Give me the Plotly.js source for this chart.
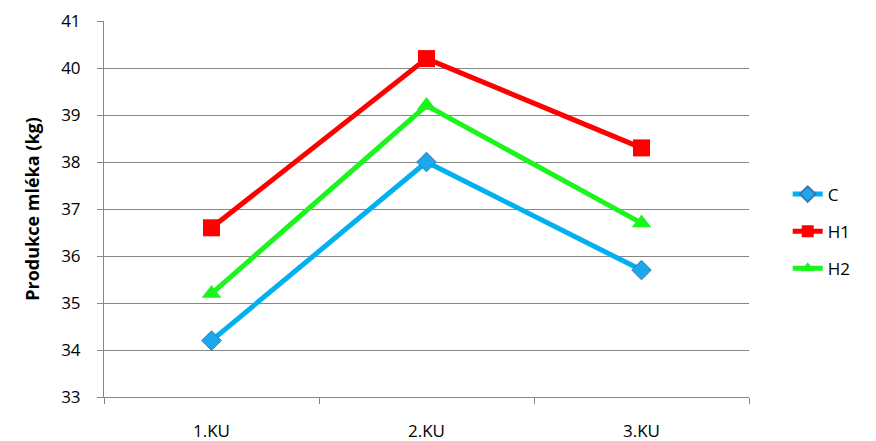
<!DOCTYPE html>
<html>
<head>
<meta charset="utf-8">
<script src="https://cdn.plot.ly/plotly-3.0.1.min.js"></script>
<style>html,body{margin:0;padding:0;background:#fff;}#chart{width:876px;height:441px;}</style>
</head>
<body>
<div id="chart"></div>
<script>
// Milk production per lactation period (kg)
const categories = ["1.KU", "2.KU", "3.KU"];
const seriesC  = [34.2, 38.0, 35.7];
const seriesH1 = [36.6, 40.2, 38.3];
const seriesH2 = [35.2, 39.2, 36.7];
const yTicks = [33, 34, 35, 36, 37, 38, 39, 40, 41];

const traces = [
  {
    name: "C", legendgroup: "c", x: categories, y: seriesC, type: "scatter", mode: "lines+markers",
    line: {color: "#00B0F0", width: 5},
    marker: {symbol: "diamond", size: 15, color: "#1CA8EC", line: {color: "#3F73B5", width: 1}}
  },
  {
    name: "H1", legendgroup: "h1", x: categories, y: seriesH1, type: "scatter", mode: "lines+markers",
    line: {color: "#FF0000", width: 5},
    marker: {symbol: "square", size: 17, color: "#FF0000"}
  },
  {
    name: "H2", legendgroup: "h2", x: categories, y: seriesH2, type: "scatter", mode: "lines+markers",
    line: {color: "#1CF51C", width: 5},
    marker: {symbol: "triangle-up", size: 17, color: "#1CF51C"}
  }
];

const layout = {
  width: 876, height: 441,
  margin: {l: 104, r: 127, t: 21, b: 44},
  paper_bgcolor: "#fff", plot_bgcolor: "#fff",
  font: {family: "'Open Sans', Lato, sans-serif", color: "#000", size: 17},
  showlegend: true,
  legend: {
    x: 1.06, xanchor: "left", y: 0.44, yanchor: "middle",
    font: {size: 17, color: "#000"}, traceorder: "grouped", tracegroupgap: 12,
    itemsizing: "constant"
  },
  xaxis: {
    type: "category", tickson: "boundaries", range: [-0.5, 2.5],
    ticks: "outside", ticklen: 6, tickcolor: "#868686", tickwidth: 1,
    showline: true, linecolor: "#868686", linewidth: 1,
    showgrid: false, zeroline: false,
    ticklabelstandoff: 19, fixedrange: true
  },
  yaxis: {
    range: [33, 41], tickvals: yTicks,
    ticks: "outside", ticklen: 6, tickcolor: "#868686", tickwidth: 1,
    showline: true, linecolor: "#868686", linewidth: 1,
    showgrid: true, gridcolor: "#868686", gridwidth: 1, zeroline: false,
    ticklabelstandoff: 13,
    title: {text: "Produkce mléka (kg)", font: {size: 18, weight: "bold"}, standoff: 16}
  }
};

Plotly.newPlot("chart", traces, layout, {displayModeBar: false, staticPlot: true});
</script>
</body>
</html>
